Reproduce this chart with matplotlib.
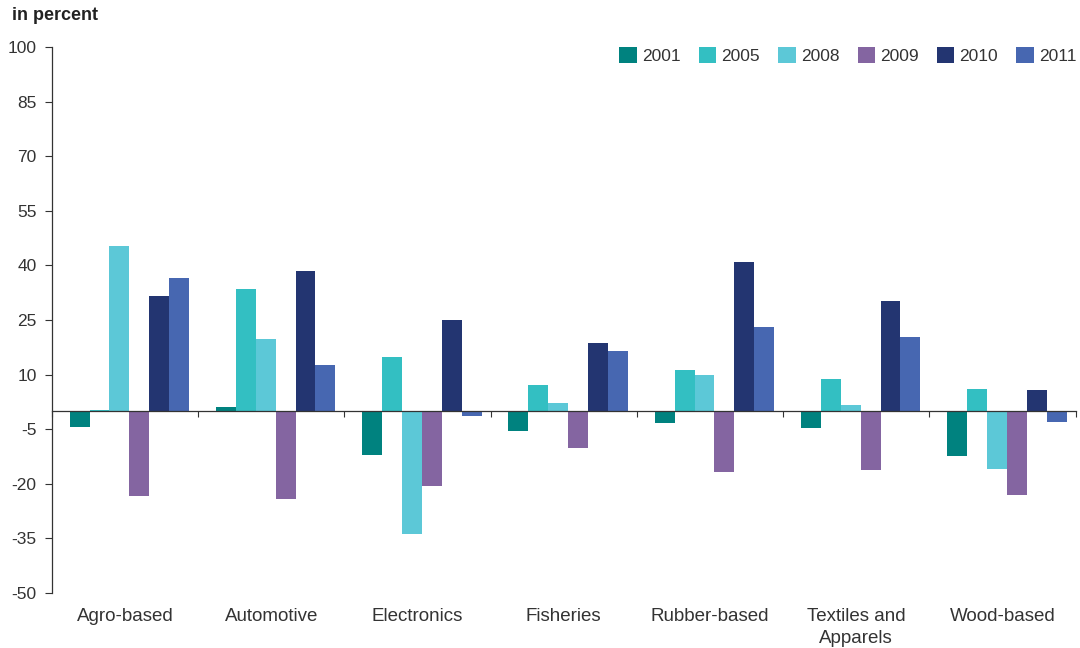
import matplotlib
matplotlib.use("Agg")
import matplotlib.pyplot as plt
import matplotlib.transforms as mtransforms
import numpy as np

plt.rcParams['font.family'] = ['Liberation Sans', 'DejaVu Sans']
plt.rcParams['axes.unicode_minus'] = False

# Growth by industry, percent
categories = ["Agro-based", "Automotive", "Electronics", "Fisheries",
              "Rubber-based", "Textiles and\nApparels", "Wood-based"]
years = ["2001", "2005", "2008", "2009", "2010", "2011"]
values = {
    "2001": [-4.3, 1.1, -12.0, -5.5, -3.3, -4.6, -12.5],
    "2005": [0.3, 33.5, 14.7, 7.0, 11.2, 8.8, 6.1],
    "2008": [45.4, 19.7, -33.7, 2.2, 9.9, 1.5, -16.0],
    "2009": [-23.3, -24.2, -20.7, -10.2, -16.8, -16.2, -23.1],
    "2010": [31.7, 38.5, 24.9, 18.6, 40.9, 30.2, 5.7],
    "2011": [36.5, 12.6, -1.3, 16.4, 23.1, 20.3, -3.0],
}
colors = ["#00827f", "#33bfc2", "#5cc8d7", "#8465a1", "#233571", "#4767b1"]

text_color = "#333333"

fig = plt.figure(figsize=(10.8, 6.48), dpi=100)
ax = fig.add_axes([0.048, 0.085, 0.948, 0.8425])

x = np.arange(len(categories))
width = 0.136
for i, yr in enumerate(years):
    offset = (i - (len(years) - 1) / 2) * width + 0.03
    ax.bar(x + offset, values[yr], width, color=colors[i], label=yr, zorder=2)

ax.set_xlim(-0.5, len(categories) - 0.5)
ax.set_ylim(-50, 100)
ax.set_yticks(np.arange(-50, 101, 15))
ax.tick_params(axis='y', direction='out', length=5, width=0.8,
               colors=text_color, labelsize=12.5, pad=6)

# x axis sits on the zero line, ticks mark the group boundaries
ax.spines['bottom'].set_position(('data', 0))
ax.spines['top'].set_visible(False)
ax.spines['right'].set_visible(False)
for s in ['left', 'bottom']:
    ax.spines[s].set_color(text_color)
    ax.spines[s].set_linewidth(0.9)
ax.set_xticks(np.arange(len(categories) + 1) - 0.5)
ax.set_xticklabels([])
ax.tick_params(axis='x', direction='out', length=4, width=0.8, colors=text_color)

trans = mtransforms.blended_transform_factory(ax.transData, ax.transAxes)
for xi, cat in zip(x, categories):
    ax.text(xi, -0.028, cat, transform=trans, ha='center', va='top',
            fontsize=13.5, color=text_color, linespacing=1.35)

fig.text(0.011, 0.976, "in percent", fontsize=13, fontweight='bold',
         color="#222222", va='center', ha='left')

leg = ax.legend(loc='upper right', bbox_to_anchor=(1.016, 1.028), ncol=6,
                frameon=False, handlelength=1.0, handleheight=1.0,
                handletextpad=0.3, columnspacing=1.05, fontsize=12.5)
for t in leg.get_texts():
    t.set_color(text_color)

fig.savefig("out.png", dpi=100)
